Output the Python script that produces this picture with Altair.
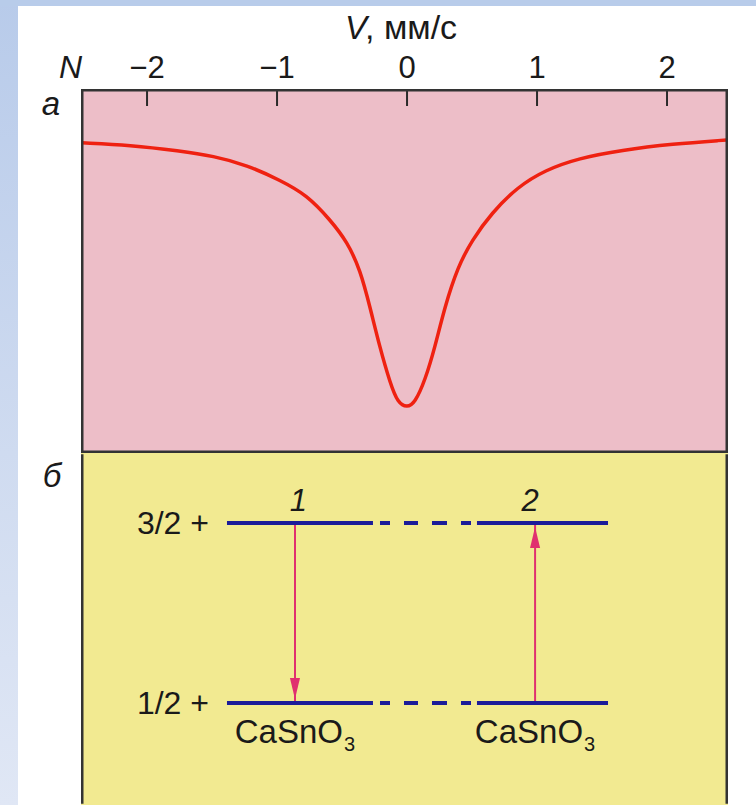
import altair as alt
import pandas as pd

# ---- panel а: Mössbauer absorption line (velocity in mm/s, relative count) ----
velocity = [-2.50, -2.13, -1.75, -1.49, -1.23, -0.98, -0.77, -0.59, -0.46, -0.36,
            -0.285, -0.21, -0.13, -0.07, 0.0, 0.06, 0.14, 0.215, 0.29, 0.39,
            0.50, 0.65, 0.85, 1.06, 1.32, 1.65, 2.04, 2.46]
counts = [0.852, 0.846, 0.830, 0.816, 0.791, 0.750, 0.709, 0.640, 0.580, 0.503,
          0.401, 0.291, 0.192, 0.137, 0.125, 0.137, 0.201, 0.291, 0.401, 0.511,
          0.585, 0.659, 0.731, 0.777, 0.810, 0.832, 0.849, 0.860]
tick_values = [-2, -1, 0, 1, 2]
tick_labels = ["−2", "−1", "0", "1", "2"]

# ---- panel б: nuclear levels of the source and absorber ----
level_E = [1, 0]
level_labels = ["3/2 +", "1/2 +"]
solid_from = [-1.385, 0.538]
solid_to = [-0.262, 1.546]
dash_from = [-0.208]
dash_to = [0.492]
trans_x = [-0.862, 0.985]
trans_from = [1, 0]
trans_to = [0, 1]
trans_dir = ["down", "up"]
trans_labels = ["1", "2"]
trans_label_x = [-0.835, 0.946]
compound = "CaSnO"
compound_sub = "3"

# ---- styling ----
FONT = "Liberation Sans"
INK = "#1a1a1a"
PINK = "#edbec8"
YELLOW = "#f2ea91"
FRAME = "#333333"
RED = "#ef2111"
NAVY = "#1c1c99"
MAGENTA = "#e0306f"
W, H_TOP, H_BOT = 647, 364, 352
X_DOMAIN = [-2.508, 2.469]
SW = 2.5  # frame line width

x_scale = alt.Scale(domain=X_DOMAIN, nice=False, zero=False)
one = pd.DataFrame({"k": [0]})


def gradient(c0, c1):
    return alt.LinearGradient(
        gradient="linear",
        stops=[alt.GradientStop(color=c0, offset=0), alt.GradientStop(color=c1, offset=1)],
        x1=0, x2=0, y1=0, y2=1,
    )


def label(text, x, y, size=32, italic=False, align="center"):
    kw = dict(text=text, font=FONT, fontSize=size, color=INK, align=align, baseline="alphabetic")
    if italic:
        kw["fontStyle"] = "italic"
    return alt.Chart(one).mark_text(**kw).encode(x=alt.value(x), y=alt.value(y))


def rule(x, y, y2, **kw):
    return alt.Chart(one).mark_rule(color=FRAME, strokeWidth=SW, strokeCap="butt", **kw).encode(
        x=alt.value(x), y=alt.value(y), y2=alt.value(y2))


# page frame strips
strip_left_top = alt.Chart(one).mark_rect(color=gradient("#b8cbea", "#cfdbf0")).encode(
    x=alt.value(-81), x2=alt.value(-63), y=alt.value(-89), y2=alt.value(H_TOP))
strip_top = alt.Chart(one).mark_rect(color="#b8ccea").encode(
    x=alt.value(-81), x2=alt.value(675), y=alt.value(-89), y2=alt.value(-83))
strip_left_bot = alt.Chart(one).mark_rect(color=gradient("#cfdbf0", "#e0e7f5")).encode(
    x=alt.value(-81), x2=alt.value(-63), y=alt.value(0), y2=alt.value(H_BOT))

# ---- top panel ----
spec_df = pd.DataFrame({"V": velocity, "N": counts})
curve = alt.Chart(spec_df).mark_line(color=RED, strokeWidth=3.5, interpolate="basis").encode(
    x=alt.X("V:Q", scale=x_scale, axis=None),
    y=alt.Y("N:Q", scale=alt.Scale(domain=[0, 1], nice=False, zero=False), axis=None),
)

tick_df = pd.DataFrame({"V": tick_values, "lab": tick_labels})
tick_marks = alt.Chart(tick_df).mark_rule(color="#2a2a2a", strokeWidth=2).encode(
    x=alt.X("V:Q", scale=x_scale, axis=None), y=alt.value(0), y2=alt.value(17))
tick_text = alt.Chart(tick_df).mark_text(font=FONT, fontSize=31, color=INK,
                                         baseline="alphabetic").encode(
    x=alt.X("V:Q", scale=x_scale, axis=None), y=alt.value(-11), text="lab:N")

frame_top = alt.Chart(one).mark_rect(fillOpacity=0, stroke=FRAME, strokeWidth=SW).encode(
    x=alt.value(SW / 2), x2=alt.value(W - SW / 2), y=alt.value(SW / 2), y2=alt.value(H_TOP - SW / 2))

top = alt.layer(
    strip_left_top, strip_top, curve, tick_marks, tick_text, frame_top,
    label("V", 286, -50, size=33, italic=True, align="right"),
    label(", мм/с", 284, -50, size=34, align="left"),
    label("N", 1, -11, italic=True, align="right"),
    label("а", -30, 26, size=33, italic=True),
).properties(width=W, height=H_TOP,
             view=alt.ViewBackground(fill=PINK, stroke="transparent", strokeWidth=0))

# ---- bottom panel ----
e_scale = alt.Scale(domain=[(250 - H_BOT) / 180, 250 / 180], nice=False, zero=False)

solid_df = pd.DataFrame([{"x": a, "x2": b, "E": e}
                         for e in level_E for a, b in zip(solid_from, solid_to)])
dash_df = pd.DataFrame([{"x": a, "x2": b, "E": e}
                        for e in level_E for a, b in zip(dash_from, dash_to)])
name_df = pd.DataFrame({"x": [solid_from[0]] * 2, "E": level_E, "name": level_labels})
trans_df = pd.DataFrame({"x": trans_x, "E0": trans_from, "E1": trans_to, "dir": trans_dir,
                         "lx": trans_label_x, "lab": trans_labels,
                         "comp": [compound] * 2, "sub": [compound_sub] * 2,
                         "Elow": [min(level_E)] * 2, "Eup": [max(level_E)] * 2})

DOWN_HEAD = "M-0.48,-2.38L0.48,-2.38L0,-0.38Z"
UP_HEAD = "M-0.48,2.38L0.48,2.38L0,0.38Z"


def X(f):
    return alt.X(f, scale=x_scale, axis=None)


def Y(f):
    return alt.Y(f, scale=e_scale, axis=None)


shafts = alt.Chart(trans_df).mark_rule(color=MAGENTA, strokeWidth=2).encode(
    x=X("x:Q"), y=Y("E0:Q"), y2="E1:Q")
heads = alt.Chart(trans_df).mark_point(filled=True, size=441, opacity=1, color=MAGENTA).encode(
    x=X("x:Q"), y=Y("E1:Q"),
    shape=alt.Shape("dir:N", scale=alt.Scale(domain=["down", "up"], range=[DOWN_HEAD, UP_HEAD]),
                    legend=None))
solid = alt.Chart(solid_df).mark_rule(color=NAVY, strokeWidth=4, strokeCap="butt").encode(
    x=X("x:Q"), x2="x2:Q", y=Y("E:Q"))
dashed = alt.Chart(dash_df).mark_rule(color=NAVY, strokeWidth=4, strokeCap="butt",
                                      strokeDash=[10, 14, 14, 14, 15, 14, 10]).encode(
    x=X("x:Q"), x2="x2:Q", y=Y("E:Q"))
names = alt.Chart(name_df).mark_text(font=FONT, fontSize=32, color=INK, align="right",
                                     baseline="alphabetic", dx=-18, dy=11).encode(
    x=X("x:Q"), y=Y("E:Q"), text="name:N")
numbers = alt.Chart(trans_df).mark_text(font=FONT, fontSize=31, color=INK, fontStyle="italic",
                                        baseline="alphabetic", dy=-12).encode(
    x=X("lx:Q"), y=Y("Eup:Q"), text="lab:N")
comp = alt.Chart(trans_df).mark_text(font=FONT, fontSize=33, color=INK, align="right",
                                     baseline="alphabetic", dx=48, dy=40).encode(
    x=X("x:Q"), y=Y("Elow:Q"), text="comp:N")
comp_sub = alt.Chart(trans_df).mark_text(font=FONT, fontSize=20, color=INK, align="left",
                                         baseline="alphabetic", dx=49, dy=48).encode(
    x=X("x:Q"), y=Y("Elow:Q"), text="sub:N")

bottom = alt.layer(
    strip_left_bot, shafts, heads, solid, dashed, names, numbers, comp, comp_sub,
    rule(SW / 2, SW / 2, H_BOT - SW / 2), rule(W - SW / 2, SW / 2, H_BOT - SW / 2),
    label("б", -29, 34, size=33, italic=True),
).properties(width=W, height=H_BOT,
             view=alt.ViewBackground(fill=YELLOW, stroke="transparent", strokeWidth=0))

chart = alt.vconcat(top, bottom, spacing=0).properties(padding=0, background="white")

chart.save("out.html", embed_options={"renderer": "svg", "actions": False})
